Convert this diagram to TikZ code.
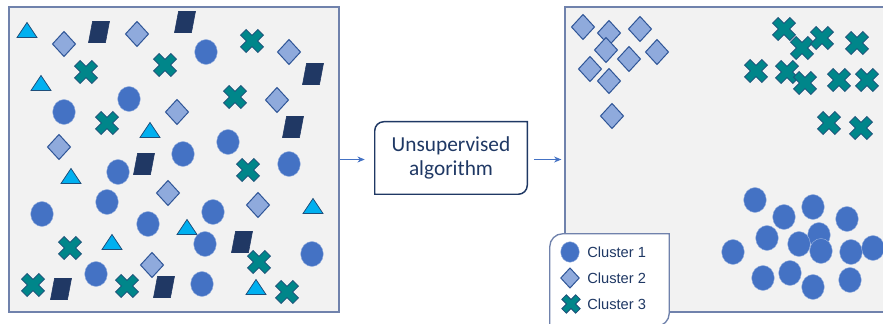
\documentclass[tikz,border=0pt]{standalone}
\usepackage{fontspec}
\setmainfont{Liberation Sans}
\newfontfamily\calibri{Carlito}
\usetikzlibrary{
		arrows.meta,
		positioning
	}
\definecolor{panelgray}{RGB}{242,242,242}
\definecolor{panelline}{RGB}{112,130,172}
\definecolor{dotblue}{RGB}{68,114,196}
\definecolor{gemfill}{RGB}{143,170,220}
\definecolor{gemline}{RGB}{47,85,151}
\definecolor{trifill}{RGB}{0,176,240}
\definecolor{triline}{RGB}{31,78,121}
\definecolor{paranavy}{RGB}{32,56,100}
\definecolor{crossteal}{RGB}{0,134,138}
\definecolor{crossline}{RGB}{31,78,121}
\definecolor{textnavy}{RGB}{31,56,100}
\tikzset{
		>={Stealth[length=5.5pt, width=4.5pt]},
		panel/.style={draw=panelline, line width=1.4pt, fill=panelgray, inner sep=0pt},
		algo/.style={text=textnavy, align=center, inner sep=0pt,
			font=\calibri\fontsize{16}{18}\selectfont},
		flow/.style={->, draw=dotblue, line width=0.7pt},
		key/.style={anchor=west, text=textnavy, inner sep=0pt,
			font=\fontsize{11}{13}\selectfont},
		dot/.pic={\filldraw[fill=dotblue, draw=dotblue!55!white, line width=0.3pt]
			(0,0) ellipse [x radius=8.5pt, y radius=9.4pt];},
		gem/.pic={\filldraw[fill=gemfill, draw=gemline, line width=0.75pt]
			(0,-12.5) -- (11.5,0) -- (0,12.5) -- (-11.5,0) -- cycle;},
		tri/.pic={\filldraw[fill=trifill, draw=triline, line width=0.6pt]
			(0,-7.5) -- (10,7.5) -- (-10,7.5) -- cycle;},
		para/.pic={\filldraw[fill=paranavy, draw=paranavy, line width=0.4pt]
			(-6.5,-10.5) -- (10.5,-10.5) -- (6.5,10.5) -- (-10.5,10.5) -- cycle;},
		cross/.pic={\filldraw[fill=crossteal, draw=crossline, line width=0.6pt, rotate=45]
			(-4,-12.3) -- (4,-12.3) -- (4,-4) -- (12.3,-4) -- (12.3,4) -- (4,4)
			-- (4,12.3) -- (-4,12.3) -- (-4,4) -- (-12.3,4) -- (-12.3,-4) -- (-4,-4) -- cycle;}
	}

\begin{document}
\begin{tikzpicture}[x=0.75pt, y=-0.75pt]
    \useasboundingbox (0,0) rectangle (883,324);

    % the two panels
    \node[panel, minimum width=247.5pt, minimum height=228.75pt] (before) at (174,159.5) {};
    \node[panel, minimum width=247.5pt, minimum height=228.75pt] (after) at (730,159.5) {};

    % the mixed points before
    \foreach \x/\y in {27/30, 41/83, 150/130, 71/176, 313/206, 187/227, 112/242, 256/287}
        \pic at (\x,\y) {tri};
    \foreach \x/\y in {64/44, 137/34, 289/52, 177/112, 277/100, 59/147, 168/193, 258/205, 152/265}
        \pic at (\x,\y) {gem};
    \foreach \x/\y in {99/32, 185/22, 313/74, 293/127, 144/164, 242/242, 61/289, 164/287}
        \pic at (\x,\y) {para};
    \foreach \x/\y in {86/72, 165/65, 252/41, 235/97, 107/123, 248/170, 70/248, 259/262,
            33/285, 127/286, 287/292}
        \pic at (\x,\y) {cross};
    \foreach \x/\y in {206/52, 129/99, 64/112, 228/142, 183/154, 118/172, 289/164, 107/202,
            42/214, 213/212, 148/224, 205/244, 312/254, 96/274, 202/284}
        \pic at (\x,\y) {dot};

    % the clusters after
    \foreach \x/\y in {583/27, 609/33, 640/29, 606/50, 657/52, 629/59, 590/69, 609/81, 612/116}
        \pic at (\x,\y) {gem};
    \foreach \x/\y in {784/29, 802/48, 822/38, 857/43, 756/71, 787/72, 805/83, 839/80,
            867/80, 829/123, 861/128}
        \pic at (\x,\y) {cross};
    \foreach \x/\y in {755/200, 784/217, 813/207, 847/219, 767/238, 819/235, 733/252, 799/244,
            821/251, 851/252, 873/248, 763/278, 790/273, 813/287, 850/280}
        \pic at (\x,\y) {dot};

    % the algorithm box (round corners top left and bottom right only)
    \node[algo, minimum width=114pt, minimum height=54pt] (algo) at (451,158) {Unsupervised\\algorithm};
    \draw[draw=textnavy, line width=1.1pt] (algo.south west)
        -- ([yshift=-6.75pt]algo.north west) arc[start angle=180, end angle=90, radius=6.75pt]
        -- (algo.north east)
        -- ([yshift=6.75pt]algo.south east) arc[start angle=0, end angle=-90, radius=6.75pt]
        -- cycle;

    % the legend
    \node[minimum width=89.25pt, minimum height=69pt, inner sep=0pt] (legend) at (609.5,280) {};
    \filldraw[fill=white, draw=panelline, line width=1pt] (legend.south west)
        -- ([yshift=-9.75pt]legend.north west) arc[start angle=180, end angle=90, radius=9.75pt]
        -- (legend.north east)
        -- ([yshift=9.75pt]legend.south east) arc[start angle=0, end angle=-90, radius=9.75pt]
        -- cycle;
    \pic[scale=0.82] at (570,252) {dot};
    \pic[scale=0.8] at (570,278) {gem};
    \pic[scale=0.8] at (571,304) {cross};
    \node[key] (k1) at (587,252) {Cluster 1};
    \node[key] (k2) at (587,278) {Cluster 2};
    \node[key] (k3) at (587,304) {Cluster 3};

    % draw the arrows
    \draw[flow, shorten >=7.5pt] (before.east) -- (before.east -| algo.west);
    \draw[flow, shorten <=5pt, shorten >=2pt] (after.west -| algo.east) -- (after.west);

\end{tikzpicture}
\end{document}
